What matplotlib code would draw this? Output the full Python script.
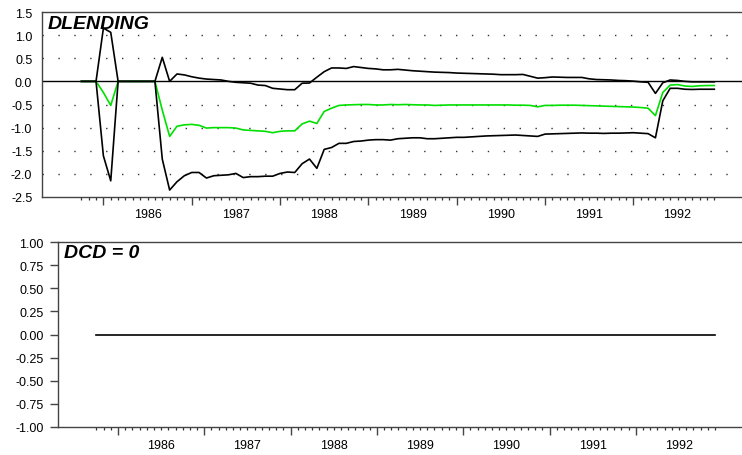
import numpy as np
import pandas as pd
import matplotlib
matplotlib.use("Agg")
import matplotlib.pyplot as plt
from matplotlib.ticker import FixedLocator, NullFormatter

plt.rcParams['font.family'] = ['Liberation Sans', 'DejaVu Sans']
plt.rcParams['axes.unicode_minus'] = False

# monthly sample 1985:10 - 1992:12
months = pd.period_range('1985-10', '1992-12', freq='M')
years = [1986, 1987, 1988, 1989, 1990, 1991, 1992]

# DLENDING: estimate (green) and the two bands (black)
dlend_mid = [0.0, 0.0, 0.0, -0.24, -0.52, 0.0, 0.0, 0.0, 0.0, 0.0, 0.0,
             -0.62, -1.19, -0.97, -0.94, -0.93, -0.95,
             -1.01, -1.0, -1.0, -1.0, -1.01, -1.05, -1.06, -1.07, -1.08,
             -1.11, -1.08, -1.07, -1.07, -0.92, -0.86, -0.91, -0.65, -0.58,
             -0.52, -0.51, -0.505, -0.5, -0.5, -0.51, -0.51, -0.5, -0.505,
             -0.5, -0.505, -0.51, -0.51, -0.52, -0.515, -0.51, -0.51,
             -0.51, -0.51, -0.51, -0.51, -0.51, -0.51, -0.51, -0.515, -0.515,
             -0.52, -0.55, -0.52, -0.52, -0.515, -0.515, -0.515, -0.52, -0.525,
             -0.53, -0.535, -0.54, -0.545, -0.55, -0.555, -0.565, -0.58,
             -0.74, -0.24, -0.08, -0.07, -0.1, -0.11, -0.095, -0.09, -0.09]
dlend_hi = [0.0, 0.0, 0.0, 1.15, 1.06, 0.0, 0.0, 0.0, 0.0, 0.0, 0.0,
            0.52, 0.0, 0.16, 0.14, 0.10, 0.07,
            0.05, 0.04, 0.03, 0.0, -0.02, -0.03, -0.04, -0.08, -0.09,
            -0.15, -0.165, -0.18, -0.18, -0.04, -0.035, 0.09, 0.21, 0.29,
            0.29, 0.28, 0.32, 0.30, 0.28, 0.27, 0.25, 0.25, 0.26,
            0.245, 0.23, 0.22, 0.21, 0.20, 0.195, 0.19, 0.18,
            0.175, 0.17, 0.165, 0.16, 0.155, 0.145, 0.145, 0.145, 0.15,
            0.11, 0.07, 0.08, 0.095, 0.09, 0.085, 0.085, 0.085, 0.055,
            0.04, 0.035, 0.03, 0.02, 0.015, 0.005, -0.01, -0.02,
            -0.26, -0.03, 0.03, 0.02, 0.0, -0.01, -0.01, -0.01, -0.01]
dlend_lo = [0.0, 0.0, 0.0, -1.61, -2.15, 0.0, 0.0, 0.0, 0.0, 0.0, 0.0,
            -1.68, -2.35, -2.17, -2.04, -1.97, -1.97,
            -2.09, -2.04, -2.03, -2.02, -1.99, -2.08, -2.06, -2.06, -2.05,
            -2.05, -1.99, -1.96, -1.97, -1.78, -1.68, -1.88, -1.47, -1.43,
            -1.34, -1.34, -1.30, -1.29, -1.27, -1.26, -1.26, -1.27, -1.24,
            -1.23, -1.22, -1.22, -1.24, -1.24, -1.23, -1.22, -1.21,
            -1.21, -1.20, -1.19, -1.18, -1.175, -1.17, -1.165, -1.16, -1.17,
            -1.18, -1.19, -1.14, -1.135, -1.13, -1.125, -1.12, -1.115, -1.12,
            -1.12, -1.125, -1.12, -1.12, -1.115, -1.11, -1.12, -1.13,
            -1.22, -0.42, -0.15, -0.15, -0.17, -0.175, -0.17, -0.17, -0.17]
dcd = [0.0] * 87

t = np.asarray(months.year + (months.month - 1) / 12.0, dtype=float)
xlim = (1985.305, 1993.23)
spine_col = '#444444'


def style_x(ax, label_off):
    ax.set_xlim(*xlim)
    ax.xaxis.set_major_locator(FixedLocator(years))
    ax.xaxis.set_minor_locator(FixedLocator(t))
    ax.xaxis.set_major_formatter(NullFormatter())
    ax.tick_params(axis='x', which='major', length=5.5, width=1.0,
                   color=spine_col, direction='out')
    ax.tick_params(axis='x', which='minor', length=2.5, width=0.9,
                   color='#333333', direction='out')
    for y in years:
        ax.text(y + 0.5, label_off, str(y), transform=ax.get_xaxis_transform(),
                ha='center', va='center', fontsize=9)
    ax.spines['right'].set_visible(False)
    for s in ('left', 'top', 'bottom'):
        ax.spines[s].set_color(spine_col)
        ax.spines[s].set_linewidth(1.0)


fig = plt.figure(figsize=(7.42, 4.56), dpi=100)

# top panel
ax1 = fig.add_axes([42 / 742, 1 - 198 / 456, 700 / 742, 185 / 456])
ax1.set_ylim(-2.5, 1.5)
ax1.set_yticks(np.arange(-2.5, 1.51, 0.5))
ax1.set_yticklabels([f'{v:.1f}' for v in np.arange(-2.5, 1.51, 0.5)])
ax1.tick_params(axis='y', length=0, pad=7, labelsize=9)
for gy in [1.0, 0.5, -0.5, -1.0, -1.5, -2.0]:
    ax1.axhline(gy, color='#333333', lw=1.0, linestyle=(0, (1.0, 10.45)),
                zorder=1)
ax1.axhline(0.0, color='black', lw=1.0, zorder=2)
ax1.plot(t, dlend_mid, color='#00e000', lw=1.2, zorder=3)
ax1.plot(t, dlend_hi, color='black', lw=1.2, zorder=4)
ax1.plot(t, dlend_lo, color='black', lw=1.2, zorder=4)
style_x(ax1, -17 / 185)
fig.text(48 / 742, 1 - 29 / 456, 'DLENDING', fontsize=14, fontweight='bold',
         fontstyle='italic', va='baseline', ha='left')

# bottom panel
ax2 = fig.add_axes([58 / 742, 1 - 428 / 456, 684 / 742, 185 / 456])
ax2.set_ylim(-1.0, 1.0)
ax2.set_yticks(np.arange(-1.0, 1.01, 0.25))
ax2.set_yticklabels([f'{v:.2f}' for v in np.arange(-1.0, 1.01, 0.25)])
ax2.tick_params(axis='y', length=5.5, width=1.0, color=spine_col,
                direction='out', pad=5, labelsize=9)
ax2.plot(t, dcd, color='black', lw=1.2)
style_x(ax2, -18 / 185)
fig.text(64 / 742, 1 - 258 / 456, 'DCD = 0', fontsize=14, fontweight='bold',
         fontstyle='italic', va='baseline', ha='left')

fig.savefig('out.png', dpi=100)
